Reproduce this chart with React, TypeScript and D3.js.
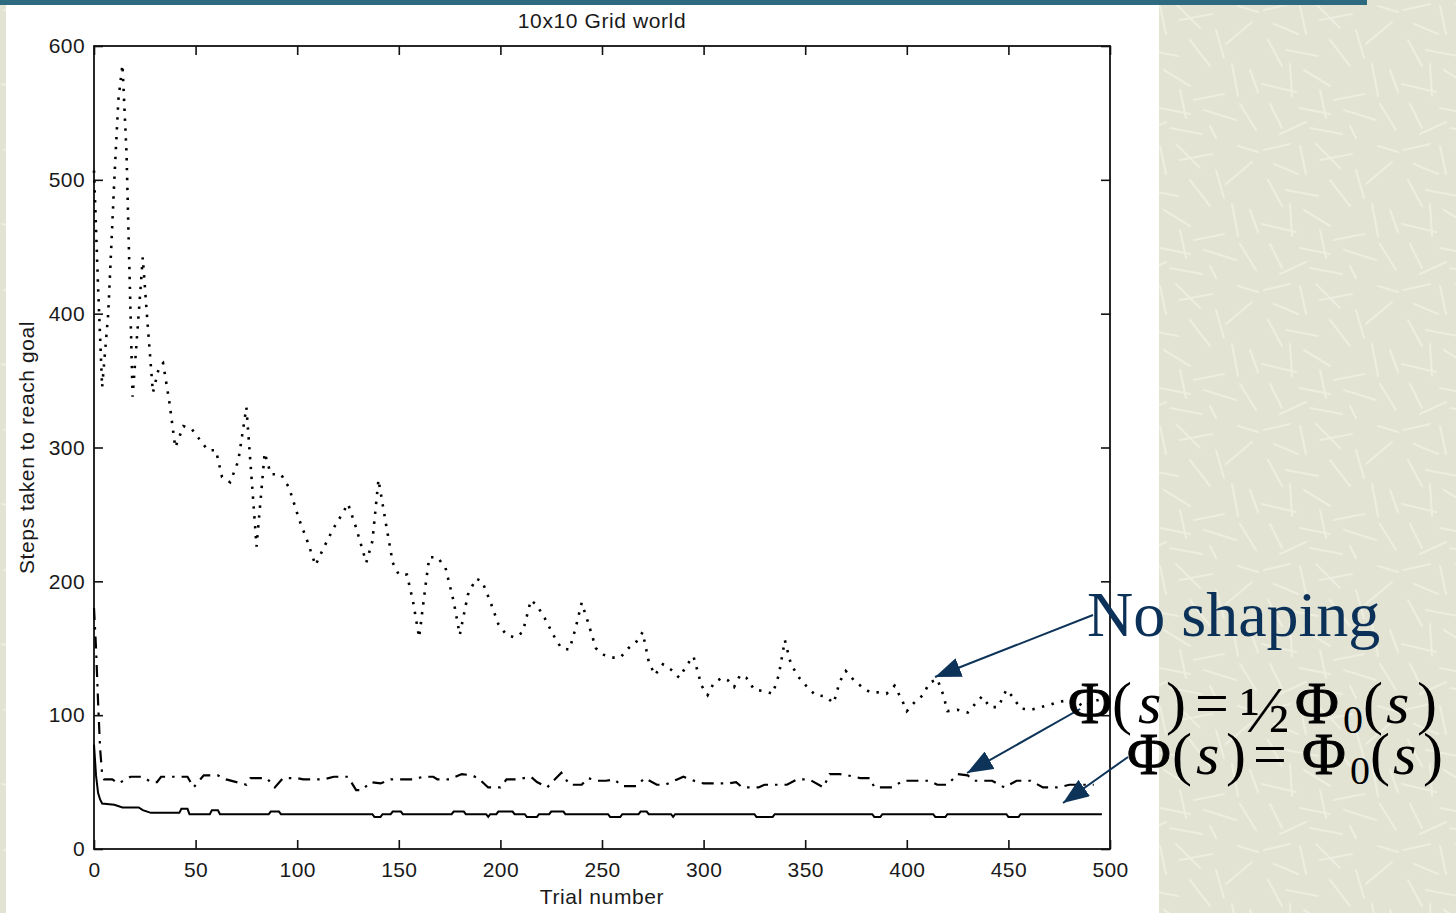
import React, { useEffect, useRef } from 'react'
import * as d3 from 'd3'

const W = 1456
const H = 913

// plot box in page pixels
const plot = { left: 94, right: 1110, top: 46, bottom: 849 }

const xTicks = [0, 50, 100, 150, 200, 250, 300, 350, 400, 450, 500]
const yTicks = [0, 100, 200, 300, 400, 500, 600]

// "No shaping" (dotted)
const noShapeTrial = [0, 2, 4, 7, 10, 12, 14, 16, 19, 22, 24, 26, 29, 32, 34, 37, 40, 44, 48, 52, 56, 60, 63, 67, 71, 75, 80, 84, 87, 92, 96, 101, 105, 109, 113, 118, 122, 125, 129, 134, 137, 140, 144, 147, 150, 154, 157, 160, 163, 165, 169, 173, 177, 180, 184, 188, 191, 195, 199, 203, 207, 211, 215, 218, 222, 226, 230, 234, 237, 240, 243, 247, 251, 255, 259, 263, 267, 270, 273, 276, 280, 284, 288, 292, 295, 299, 302, 305, 309, 312, 315, 318, 321, 325, 330, 334, 337, 340, 343, 347, 351, 355, 360, 364, 367, 370, 374, 378, 382, 386, 390, 394, 398, 400, 404, 408, 411, 415, 418, 420, 425, 430, 434, 437, 441, 445, 449, 452, 456, 461, 466, 471, 475, 479, 483, 487, 491, 496]
const noShapeSteps = [507, 420, 345, 400, 500, 560, 586, 520, 338, 400, 442, 400, 341, 360, 363, 335, 300, 316, 314, 306, 298, 298, 278, 274, 290, 330, 226, 296, 280, 280, 270, 246, 230, 212, 225, 240, 250, 258, 240, 214, 230, 276, 240, 214, 205, 205, 185, 158, 195, 218, 218, 210, 185, 160, 190, 202, 200, 185, 168, 160, 158, 162, 186, 182, 172, 160, 150, 149, 165, 184, 170, 150, 145, 143, 143, 150, 155, 162, 140, 130, 138, 134, 128, 138, 144, 122, 115, 124, 128, 126, 121, 130, 128, 119, 118, 116, 130, 156, 138, 128, 121, 115, 114, 109, 125, 133, 126, 121, 117, 117, 116, 122, 110, 103, 110, 115, 124, 127, 115, 103, 104, 102, 109, 114, 106, 106, 119, 114, 105, 104, 106, 108, 110, 111, 111, 106, 110, 112]

// Phi(s) = 1/2 Phi0(s) (dash-dot)
const halfTrial = [0, 1, 2, 3, 4, 5, 9, 12, 18, 24, 28, 31, 33, 41, 46, 49, 54, 61, 65, 75, 77, 85, 89, 93, 100, 103, 113, 118, 125, 129, 132, 136, 141, 146, 157, 162, 167, 169, 175, 181, 186, 189, 194, 200, 203, 208, 215, 218, 223, 230, 234, 240, 243, 248, 252, 256, 260, 267, 271, 277, 281, 287, 290, 297, 300, 312, 316, 319, 327, 330, 341, 346, 352, 359, 362, 367, 371, 377, 382, 384, 393, 398, 411, 415, 420, 425, 430, 433, 442, 448, 454, 461, 467, 475, 480, 492]
const halfSteps = [180, 150, 110, 75, 56, 52, 52, 49, 54, 54, 50, 50, 54, 54, 54, 46, 55, 55, 52, 48, 53, 53, 46, 53, 53, 52, 52, 54, 54, 44, 44, 50, 49, 52, 52, 54, 54, 52, 52, 56, 55, 53, 46, 46, 52, 52, 54, 50, 46, 57, 48, 48, 53, 51, 51, 52, 47, 47, 53, 48, 48, 52, 54, 50, 49, 49, 50, 46, 46, 48, 48, 52, 52, 46, 56, 56, 55, 53, 53, 46, 46, 51, 51, 48, 48, 56, 55, 51, 51, 46, 51, 51, 46, 46, 48, 48]

// Phi(s) = Phi0(s) (solid)
const fullTrial = [0, 1, 2, 3, 4, 10, 14, 22, 24, 28, 42, 43, 46, 47, 57, 58, 61, 62, 86, 87, 91, 92, 137, 138, 141, 142, 146, 147, 151, 152, 176, 177, 182, 183, 193, 194, 195, 198, 199, 206, 207, 212, 213, 218, 219, 224, 225, 231, 232, 253, 254, 259, 260, 268, 269, 272, 273, 284, 285, 286, 325, 326, 334, 335, 383, 384, 387, 388, 413, 414, 419, 420, 449, 450, 455, 456, 496]
const fullSteps = [78, 55, 42, 37, 34, 33, 31, 31, 29, 27, 27, 30, 30, 26, 26, 29, 29, 26, 26, 28, 28, 26, 26, 24, 24, 26, 26, 28, 28, 26, 26, 28, 28, 26, 26, 24, 26, 26, 28, 28, 26, 26, 24, 24, 26, 26, 28, 28, 26, 26, 24, 24, 26, 26, 28, 28, 26, 26, 24, 26, 26, 24, 24, 26, 26, 24, 24, 26, 26, 24, 24, 26, 26, 24, 24, 26, 26]

// paper texture strokes for the slide background (decoration only)
const paperStrokes = [
  [4, 10, 30, 4], [40, 6, 46, 34], [60, 20, 92, 14], [8, 40, 22, 66], [26, 50, 58, 56],
  [70, 40, 90, 66], [96, 30, 104, 58], [2, 84, 36, 92], [44, 70, 70, 86], [74, 100, 104, 94],
  [14, 24, 38, 34], [30, 64, 32, 96], [56, 4, 80, 28], [84, 110, 116, 120], [106, 44, 132, 22],
  [112, 64, 118, 96], [10, 104, 22, 128], [40, 108, 70, 114], [120, 104, 136, 130], [118, 6, 138, 12],
  [50, 128, 82, 134], [90, 126, 96, 138], [130, 70, 138, 92], [60, 90, 66, 118], [20, 134, 46, 122],
]

const NAVY = '#0d3359'

function ChartLayer() {
  const ref = useRef<SVGGElement>(null)

  useEffect(() => {
    const g = d3.select(ref.current)
    g.selectAll('*').remove()

    const x = d3.scaleLinear().domain([0, 500]).range([plot.left, plot.right])
    const y = d3.scaleLinear().domain([0, 600]).range([plot.bottom, plot.top])

    const font = "'Liberation Sans', Arial, Helvetica, sans-serif"

    // axes (matlab style: ticks inside, on all four sides)
    const bottom = g.append('g')
      .attr('transform', `translate(0,${plot.bottom})`)
      .call(d3.axisBottom(x).tickValues(xTicks).tickSizeInner(-9).tickSizeOuter(0).tickPadding(13))
    const left = g.append('g')
      .attr('transform', `translate(${plot.left},0)`)
      .call(d3.axisLeft(y).tickValues(yTicks).tickSizeInner(-9).tickSizeOuter(0).tickPadding(9))
    g.append('g')
      .attr('transform', `translate(0,${plot.top})`)
      .call(d3.axisTop(x).tickValues(xTicks).tickSizeInner(-9).tickSizeOuter(0).tickFormat(() => ''))
    g.append('g')
      .attr('transform', `translate(${plot.right},0)`)
      .call(d3.axisRight(y).tickValues(yTicks).tickSizeInner(-9).tickSizeOuter(0).tickFormat(() => ''))

    g.selectAll('.domain').remove()
    g.selectAll('.tick line').attr('stroke', '#111').attr('stroke-width', 1.6)
    ;[bottom, left].forEach(a => a.selectAll('text')
      .attr('font-family', font).attr('font-size', 21).attr('fill', '#1a1a1a').attr('letter-spacing', 0.4))

    g.append('rect')
      .attr('x', plot.left).attr('y', plot.top)
      .attr('width', plot.right - plot.left).attr('height', plot.bottom - plot.top)
      .attr('fill', 'none').attr('stroke', '#111').attr('stroke-width', 1.8)

    const line = d3.line<[number, number]>().x(d => x(d[0])).y(d => y(d[1]))

    const series = [
      { t: noShapeTrial, v: noShapeSteps, dash: '2.4 7.5', w: 2.6 },
      { t: halfTrial, v: halfSteps, dash: '12 7 2.5 7', w: 2.2 },
      { t: fullTrial, v: fullSteps, dash: null, w: 2 },
    ]
    series.forEach(s => {
      const pts = s.t.map((t, i) => [t, s.v[i]] as [number, number])
      g.append('path')
        .attr('d', line(pts))
        .attr('fill', 'none')
        .attr('stroke', '#000')
        .attr('stroke-width', s.w)
        .attr('stroke-dasharray', s.dash)
    })

    g.append('text')
      .attr('x', (plot.left + plot.right) / 2).attr('y', 28)
      .attr('text-anchor', 'middle')
      .attr('font-family', font).attr('font-size', 21).attr('letter-spacing', 0.6).attr('fill', '#1a1a1a')
      .text('10x10 Grid world')

    g.append('text')
      .attr('x', (plot.left + plot.right) / 2).attr('y', 904)
      .attr('text-anchor', 'middle')
      .attr('font-family', font).attr('font-size', 21).attr('letter-spacing', 0.6).attr('fill', '#1a1a1a')
      .text('Trial number')

    g.append('text')
      .attr('transform', `translate(34,${(plot.top + plot.bottom) / 2}) rotate(-90)`)
      .attr('text-anchor', 'middle')
      .attr('font-family', font).attr('font-size', 21).attr('letter-spacing', 0.6).attr('fill', '#1a1a1a')
      .text('Steps taken to reach goal')
  }, [])

  return <g ref={ref} />
}

export default function App() {
  const serif = "'Liberation Serif', 'Times New Roman', serif"
  const phi = { stroke: '#000', strokeWidth: 0.9 }
  return (
    <div style={{ position: 'absolute', left: 0, top: 0, width: W, height: H, overflow: 'hidden' }}>
      <svg width={W} height={H} style={{ display: 'block' }}>
        <defs>
          <pattern id="paper" width={140} height={140} patternUnits="userSpaceOnUse">
            <rect width={140} height={140} fill="#e2e3d3" />
            {paperStrokes.map((s, i) => (
              <line key={i} x1={s[0]} y1={s[1]} x2={s[2]} y2={s[3]}
                stroke="#eeeee0" strokeWidth={2.2} strokeLinecap="round" />
            ))}
          </pattern>
          <marker id="arrowhead" viewBox="0 0 26 20" refX={26} refY={10}
            markerWidth={26} markerHeight={20} markerUnits="userSpaceOnUse" orient="auto">
            <path d="M0,0 L26,10 L0,20 Z" fill={NAVY} />
          </marker>
        </defs>

        <rect width={W} height={H} fill="url(#paper)" />
        <rect x={0} y={0} width={1367} height={5} fill="#2d6a80" />
        <rect x={6} y={5} width={1153} height={H - 5} fill="#ffffff" />

        <ChartLayer />

        {/* annotations */}
        <line x1={1093} y1={615} x2={935} y2={677} stroke={NAVY} strokeWidth={2} markerEnd="url(#arrowhead)" />
        <line x1={1080} y1={709} x2={967} y2={773} stroke={NAVY} strokeWidth={2} markerEnd="url(#arrowhead)" />
        <line x1={1128} y1={757} x2={1063} y2={803} stroke={NAVY} strokeWidth={2} markerEnd="url(#arrowhead)" />

        <text x={1087} y={636} fontFamily={serif} fontSize={64} fill="#0c3159">No shaping</text>

        <text y={723} fontFamily={serif} fontSize={60} fill="#000">
          <tspan x={1068} {...phi}>Φ</tspan>
          <tspan x={1112}>(</tspan>
          <tspan x={1138} fontStyle="italic">s</tspan>
          <tspan x={1166}>)</tspan>
          <tspan x={1195}>=</tspan>
          <tspan x={1240} fontSize={66} dy={9}>½</tspan>
          <tspan x={1295} dy={-9} {...phi}>Φ</tspan>
          <tspan x={1343} fontSize={40} dy={10}>0</tspan>
          <tspan x={1363} dy={-10}>(</tspan>
          <tspan x={1386} fontStyle="italic">s</tspan>
          <tspan x={1417}>)</tspan>
        </text>
        <text y={774} fontFamily={serif} fontSize={60} fill="#000">
          <tspan x={1127} {...phi}>Φ</tspan>
          <tspan x={1172}>(</tspan>
          <tspan x={1196} fontStyle="italic">s</tspan>
          <tspan x={1226}>)</tspan>
          <tspan x={1253}>=</tspan>
          <tspan x={1302} {...phi}>Φ</tspan>
          <tspan x={1350} fontSize={40} dy={10}>0</tspan>
          <tspan x={1370} dy={-10}>(</tspan>
          <tspan x={1393} fontStyle="italic">s</tspan>
          <tspan x={1423}>)</tspan>
        </text>
      </svg>
    </div>
  )
}
